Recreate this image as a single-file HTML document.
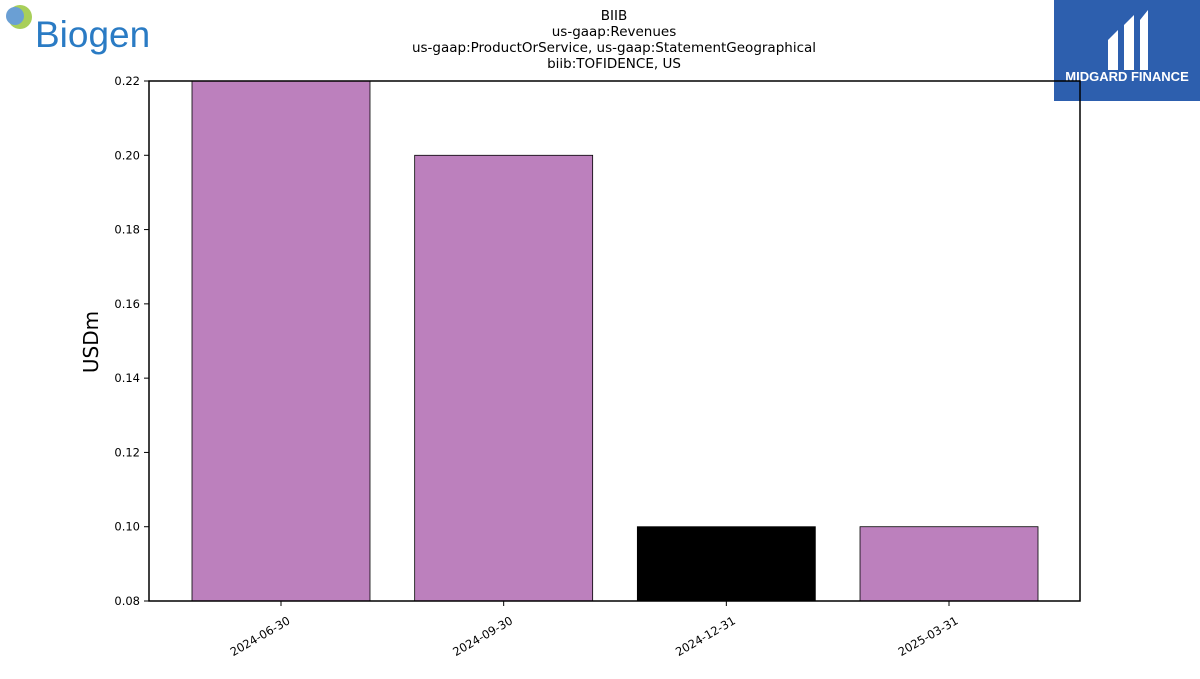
<!DOCTYPE html>
<html><head><meta charset="utf-8"><style>
body{margin:0;background:#fff;width:1200px;height:675px;overflow:hidden;font-family:"DejaVu Sans","Liberation Sans",sans-serif;}
</style></head><body>
<svg width="1200" height="675" xmlns="http://www.w3.org/2000/svg">
<g>
<circle cx="20" cy="17" r="12" fill="#a8cf5a"/>
<circle cx="15" cy="16" r="9" fill="#6a9fd4"/>
<text x="35" y="47" font-family="Liberation Sans" font-size="37" fill="#2a7bc4">Biogen</text>
</g>
<g>
<rect x="1054" y="0" width="146" height="101" fill="#2d5fae"/>
<path d="M1108 70 L1108 40 L1118 30 L1118 70 Z M1124 55 L1124 25 L1134 15 L1134 70 L1124 70 Z M1140 70 L1140 20 L1148 10 L1148 70 Z" fill="#fff"/>
<text x="1127" y="81" text-anchor="middle" font-family="Liberation Sans" font-weight="bold" font-size="13" fill="#fff">MIDGARD FINANCE</text>
</g>
<g font-size="13.5" text-anchor="middle" fill="#000">
<text x="614" y="20">BIIB</text>
<text x="614" y="36">us-gaap:Revenues</text>
<text x="614" y="52">us-gaap:ProductOrService, us-gaap:StatementGeographical</text>
<text x="614" y="68">biib:TOFIDENCE, US</text>
</g>
<g id="plot"></g>
<text x="0" y="0" transform="translate(98,342) rotate(-90)" text-anchor="middle" font-size="20">USDm</text>
</svg>
<script>
const categories=["2024-06-30","2024-09-30","2024-12-31","2025-03-31"];
const values=[0.22,0.20,0.10,0.10];
const colors=["#bc80bd","#bc80bd","#000000","#bc80bd"];
const yTicks=[0.08,0.10,0.12,0.14,0.16,0.18,0.20,0.22];
const NS="http://www.w3.org/2000/svg";
const L=149,R=1080,T=81,B=601,yMin=0.08,yMax=0.22;
const step=(R-L)/(categories.length-0.4*2+0.4*2-0.0+0.18);
const sx=i=>281+i*222.67;
const sy=v=>B-(v-yMin)/(yMax-yMin)*(B-T);
const g=document.getElementById('plot');
function mk(t,a){const e=document.createElementNS(NS,t);for(const k in a)e.setAttribute(k,a[k]);g.appendChild(e);return e;}
values.forEach((v,i)=>{
 const r=mk('rect',{x:sx(i)-89,y:sy(v),width:178,height:B-sy(v),fill:colors[i],stroke:'#000','stroke-width':0.8});
 
 
 const tk=mk('line',{x1:sx(i),x2:sx(i),y1:B,y2:B+5,stroke:'#000'});
 
 
 const t=mk('text',{x:sx(i)+10,y:B+22,'font-size':11.5,'text-anchor':'end',transform:`rotate(-30 ${sx(i)+10} ${B+22})`});
 t.textContent=categories[i];
 
 
});
yTicks.forEach(v=>{
 const tk=mk('line',{x1:L-5,x2:L,y1:sy(v),y2:sy(v),stroke:'#000'});
 
 
 const t=mk('text',{x:L-9,y:sy(v)+4,'font-size':11.5,'text-anchor':'end'});
 t.textContent=v.toFixed(2);
 
 
});
const f=mk('rect',{x:L,y:T,width:R-L,height:B-T,fill:'none',stroke:'#000','stroke-width':1.5});


</script>
</body></html>
